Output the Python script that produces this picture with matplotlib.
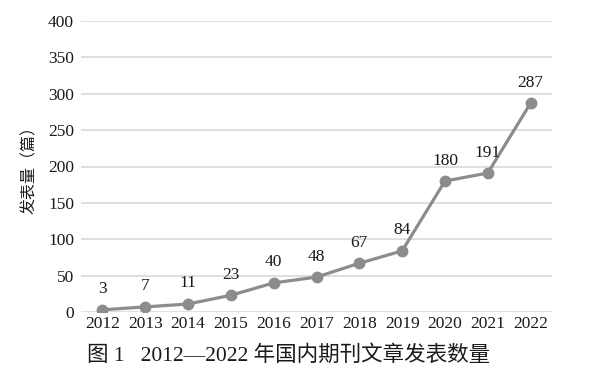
import matplotlib
matplotlib.use("Agg")
import matplotlib.pyplot as plt

years = ["2012", "2013", "2014", "2015", "2016", "2017", "2018", "2019", "2020", "2021", "2022"]
counts = [3, 7, 11, 23, 40, 48, 67, 84, 180, 191, 287]
yticks = [0, 50, 100, 150, 200, 250, 300, 350, 400]

plt.rcParams['font.family'] = ['Liberation Serif', 'Noto Sans CJK SC', 'DejaVu Sans']

fig = plt.figure(figsize=(6.0, 3.83), dpi=100)
ax = fig.add_axes([81/600, 1-312/383, (552-81)/600, (312-21)/383])

x = list(range(len(years)))
ax.plot(x, counts, color='#8c8c8c', lw=2.3, marker='o', ms=7.5, zorder=3)
for xi, v in zip(x, counts):
    ax.annotate(str(v), (xi, v), xytext=(0, 9), textcoords='offset points',
                ha='center', va='bottom', fontsize=12.5, color='#1a1a1a')

ax.set_xlim(-0.5, len(years) - 0.5)
ax.set_ylim(0, 400)
ax.set_yticks(yticks)
ax.set_xticks(x)
ax.set_xticklabels(years)
ax.grid(axis='y', color='#d9d9d9', lw=1.2)
ax.set_axisbelow(True)
for s in ax.spines.values():
    s.set_visible(False)
ax.tick_params(length=0, labelsize=12.5, colors='#1a1a1a', pad=5)
ax.tick_params(axis='x', pad=3)
ax.set_ylabel('发表量（篇）', fontsize=11.5, color='#1a1a1a', labelpad=7)

fig.text(289/600, 1-355/383, '图 1   2012—2022 年国内期刊文章发表数量',
         ha='center', va='center', fontsize=15.5, color='#1a1a1a')

fig.savefig('out.png', dpi=100, facecolor='white')
